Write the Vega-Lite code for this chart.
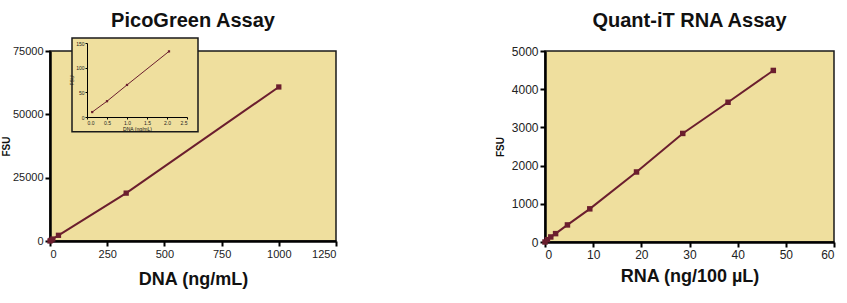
{
  "$schema": "https://vega.github.io/schema/vega-lite/v6.json",
  "background": "white",
  "padding": {"left": 0, "right": 5, "top": 10, "bottom": 2},
  "config": {
    "font": "Liberation Sans",
    "view": {"fill": "#EFDF9E", "stroke": "#1a1a1a", "strokeWidth": 1.5},
    "axis": {"grid": false, "domainColor": "#000", "domainWidth": 2.5, "tickColor": "#000", "tickWidth": 2, "tickSize": 5, "labelColor": "#222", "labelFontSize": 11, "titleFontWeight": "bold", "titleColor": "#111"},
    "title": {"fontSize": 20, "fontWeight": "bold", "color": "#111", "anchor": "middle"},
    "concat": {"spacing": 156}
  },
  "datasets": {
    "dna": [
      {"conc": 0, "fsu": 0},
      {"conc": 4.1, "fsu": 250},
      {"conc": 12.3, "fsu": 780},
      {"conc": 37, "fsu": 2250},
      {"conc": 333, "fsu": 18900},
      {"conc": 1000, "fsu": 60800}
    ],
    "dna_inset": [
      {"conc": 0.13, "fsu": 10},
      {"conc": 0.5, "fsu": 32},
      {"conc": 1.0, "fsu": 65},
      {"conc": 2.05, "fsu": 133}
    ],
    "rna": [
      {"conc": 0, "fsu": 0},
      {"conc": 0.5, "fsu": 61},
      {"conc": 1.2, "fsu": 132},
      {"conc": 2.2, "fsu": 219},
      {"conc": 4.66, "fsu": 447},
      {"conc": 9.3, "fsu": 868},
      {"conc": 19, "fsu": 1833},
      {"conc": 28.6, "fsu": 2842},
      {"conc": 38, "fsu": 3658},
      {"conc": 47.4, "fsu": 4491}
    ]
  },
  "hconcat": [
    {
      "title": {"text": "PicoGreen Assay", "offset": 6},
      "width": 286,
      "height": 190,
      "layer": [
        {
          "data": {"name": "dna"},
          "encoding": {
            "x": {"field": "conc", "type": "quantitative", "scale": {"domain": [0, 1250], "nice": false},
                  "axis": {"values": [0, 250, 500, 750, 1000, 1250], "format": "d", "title": "DNA (ng/mL)", "titleFontSize": 18, "titlePadding": 11}},
            "y": {"field": "fsu", "type": "quantitative", "scale": {"domain": [0, 75000], "nice": false},
                  "axis": {"values": [0, 25000, 50000, 75000], "format": "d", "title": "FSU", "titleFontSize": 10, "titlePadding": 1}}
          },
          "layer": [
            {"mark": {"type": "line", "color": "#6B1E2E", "strokeWidth": 2}},
            {"mark": {"type": "point", "shape": "square", "filled": true, "size": 28, "color": "#6B1E2E", "opacity": 1}}
          ]
        },
        {
          "layer": [
            {
              "data": {"values": [{}]},
              "mark": {"type": "rect", "fill": "#EFDF9E", "stroke": "#1a1a1a", "strokeWidth": 1.5},
              "encoding": {
                "x": {"datum": -0.375, "type": "quantitative", "scale": {"domain": [0, 2.5], "nice": false, "range": [37, 137]},
                      "axis": {"orient": "bottom", "offset": -124, "zindex": 2, "values": [0, 0.5, 1, 1.5, 2, 2.5], "format": ".1f", "title": "DNA (ng/mL)", "titleFontSize": 5, "titleFontWeight": "normal", "labelFontSize": 5, "labelPadding": 1, "titlePadding": 1, "domainWidth": 1, "tickWidth": 1, "tickSize": 2}},
                "x2": {"datum": 2.775},
                "y": {"datum": -30, "type": "quantitative", "scale": {"domain": [0, 150], "nice": false, "range": [66, -8]},
                      "axis": {"orient": "left", "offset": -37, "zindex": 2, "values": [0, 50, 100, 150], "title": "FSU", "titleFontSize": 5, "titleFontWeight": "normal", "labelFontSize": 5, "labelPadding": 1, "titlePadding": 1, "domainWidth": 1, "tickWidth": 1, "tickSize": 2}},
                "y2": {"datum": 160}
              }
            },
            {
              "data": {"name": "dna_inset"},
              "mark": {"type": "line", "color": "#6B1E2E", "strokeWidth": 1},
              "encoding": {
                "x": {"field": "conc", "type": "quantitative"},
                "y": {"field": "fsu", "type": "quantitative"}
              }
            },
            {
              "data": {"name": "dna_inset"},
              "mark": {"type": "point", "shape": "square", "filled": true, "size": 5, "color": "#6B1E2E", "opacity": 1},
              "encoding": {
                "x": {"field": "conc", "type": "quantitative"},
                "y": {"field": "fsu", "type": "quantitative"}
              }
            }
          ]
        }
      ],
      "resolve": {"scale": {"x": "independent", "y": "independent"}, "axis": {"x": "independent", "y": "independent"}}
    },
    {
      "title": {"text": "Quant-iT RNA Assay", "offset": 14},
      "width": 289,
      "height": 191,
      "data": {"name": "rna"},
      "encoding": {
        "x": {"field": "conc", "type": "quantitative", "scale": {"domain": [0, 60], "nice": false},
              "axis": {"values": [0, 10, 20, 30, 40, 50, 60], "title": "RNA (ng/100 µL)", "titleFontSize": 18, "titlePadding": 7, "labelFontSize": 12}},
        "y": {"field": "fsu", "type": "quantitative", "scale": {"domain": [0, 5000], "nice": false},
              "axis": {"values": [0, 1000, 2000, 3000, 4000, 5000], "format": "d", "title": "FSU", "titleFontSize": 10, "titlePadding": 6, "labelFontSize": 12}}
      },
      "layer": [
        {"mark": {"type": "line", "color": "#6B1E2E", "strokeWidth": 2}},
        {"mark": {"type": "point", "shape": "square", "filled": true, "size": 30, "color": "#6B1E2E", "opacity": 1}}
      ]
    }
  ]
}
